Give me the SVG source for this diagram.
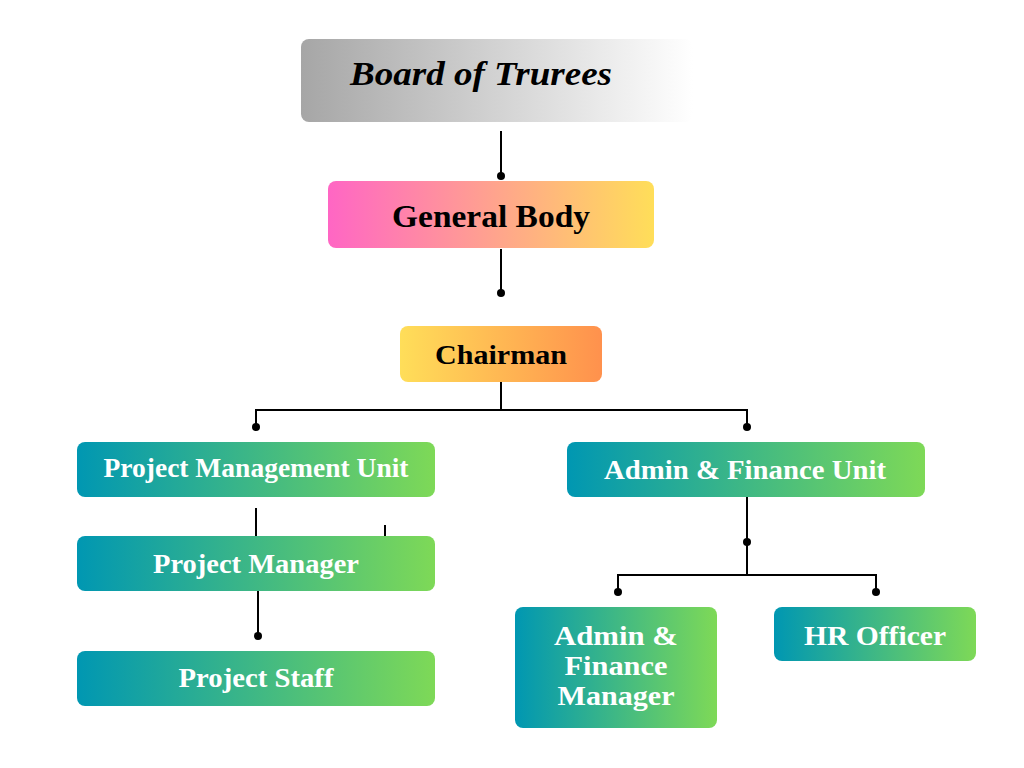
<svg xmlns="http://www.w3.org/2000/svg" width="1024" height="768" viewBox="0 0 1024 768">
  <defs>
    <linearGradient id="gGray" x1="0" y1="0" x2="1" y2="0">
      <stop offset="0" stop-color="#a6a6a6"/>
      <stop offset="1" stop-color="#ffffff"/>
    </linearGradient>
    <linearGradient id="gPink" x1="0" y1="0" x2="1" y2="0">
      <stop offset="0" stop-color="#ff66c4"/>
      <stop offset="1" stop-color="#ffde59"/>
    </linearGradient>
    <linearGradient id="gOrange" x1="0" y1="0" x2="1" y2="0">
      <stop offset="0" stop-color="#ffde59"/>
      <stop offset="1" stop-color="#ff914d"/>
    </linearGradient>
    <linearGradient id="gTeal" x1="0" y1="0" x2="1" y2="0">
      <stop offset="0" stop-color="#0097b2"/>
      <stop offset="1" stop-color="#7ed957"/>
    </linearGradient>
    <style>
      .box { rx: 8px; ry: 8px; }
      .dark { font-family: "Liberation Serif", "DejaVu Serif", serif; font-weight: bold; fill: #000; text-anchor: middle; }
      .light { font-family: "Liberation Serif", "DejaVu Serif", serif; font-weight: bold; fill: #fff; text-anchor: middle; font-size: 27px; }
      .wire { stroke: #000; stroke-width: 2; fill: none; }
      .dot { fill: #000; }
    </style>
  </defs>

  <rect width="1024" height="768" fill="#ffffff"/>

  <!-- connectors -->
  <g id="connectors">
    <path class="wire" d="M501 131 V176"/>
    <circle class="dot" cx="501" cy="176" r="4"/>
    <path class="wire" d="M501 249 V293"/>
    <circle class="dot" cx="501" cy="293" r="4"/>
    <path class="wire" d="M501 382 V410 M256 427 V410 H747 V427"/>
    <circle class="dot" cx="256" cy="427" r="4"/>
    <circle class="dot" cx="747" cy="427" r="4"/>
    <path class="wire" d="M256 508 V536 M385 525 V536"/>
    <path class="wire" d="M258 591 V636"/>
    <circle class="dot" cx="258" cy="636" r="4"/>
    <path class="wire" d="M747 497 V575 M618 592 V575 H876 V592"/>
    <circle class="dot" cx="747" cy="542" r="4"/>
    <circle class="dot" cx="618" cy="592" r="4"/>
    <circle class="dot" cx="876" cy="592" r="4"/>
  </g>

  <g id="board">
    <rect class="box" x="301" y="39" width="392" height="83" fill="url(#gGray)"/>
    <text class="dark" x="481" y="85" font-size="34" font-style="italic" textLength="262" lengthAdjust="spacingAndGlyphs">Board of Trurees</text>
  </g>

  <g id="general-body">
    <rect class="box" x="328" y="181" width="326" height="67" fill="url(#gPink)"/>
    <text class="dark" x="491" y="227" font-size="31" textLength="198" lengthAdjust="spacingAndGlyphs">General Body</text>
  </g>

  <g id="chairman">
    <rect class="box" x="400" y="326" width="202" height="56" fill="url(#gOrange)"/>
    <text class="dark" x="501" y="364" font-size="27" textLength="132" lengthAdjust="spacingAndGlyphs">Chairman</text>
  </g>

  <g id="pmu">
    <rect class="box" x="77" y="442" width="358" height="55" fill="url(#gTeal)"/>
    <text class="light" x="256" y="477" textLength="305" lengthAdjust="spacingAndGlyphs">Project Management Unit</text>
  </g>

  <g id="project-manager">
    <rect class="box" x="77" y="536" width="358" height="55" fill="url(#gTeal)"/>
    <text class="light" x="256" y="573" textLength="206" lengthAdjust="spacingAndGlyphs">Project Manager</text>
  </g>

  <g id="project-staff">
    <rect class="box" x="77" y="651" width="358" height="55" fill="url(#gTeal)"/>
    <text class="light" x="256" y="687" textLength="155" lengthAdjust="spacingAndGlyphs">Project Staff</text>
  </g>

  <g id="afu">
    <rect class="box" x="567" y="442" width="358" height="55" fill="url(#gTeal)"/>
    <text class="light" x="745" y="479" textLength="282" lengthAdjust="spacingAndGlyphs">Admin &amp; Finance Unit</text>
  </g>

  <g id="af-manager">
    <rect class="box" x="515" y="607" width="202" height="121" fill="url(#gTeal)"/>
    <text class="light" x="616" y="645" textLength="124" lengthAdjust="spacingAndGlyphs">Admin &amp;</text>
    <text class="light" x="616" y="675" textLength="103" lengthAdjust="spacingAndGlyphs">Finance</text>
    <text class="light" x="616" y="705" textLength="117" lengthAdjust="spacingAndGlyphs">Manager</text>
  </g>

  <g id="hr-officer">
    <rect class="box" x="774" y="607" width="202" height="54" fill="url(#gTeal)"/>
    <text class="light" x="875" y="645" textLength="142" lengthAdjust="spacingAndGlyphs">HR Officer</text>
  </g>
</svg>
